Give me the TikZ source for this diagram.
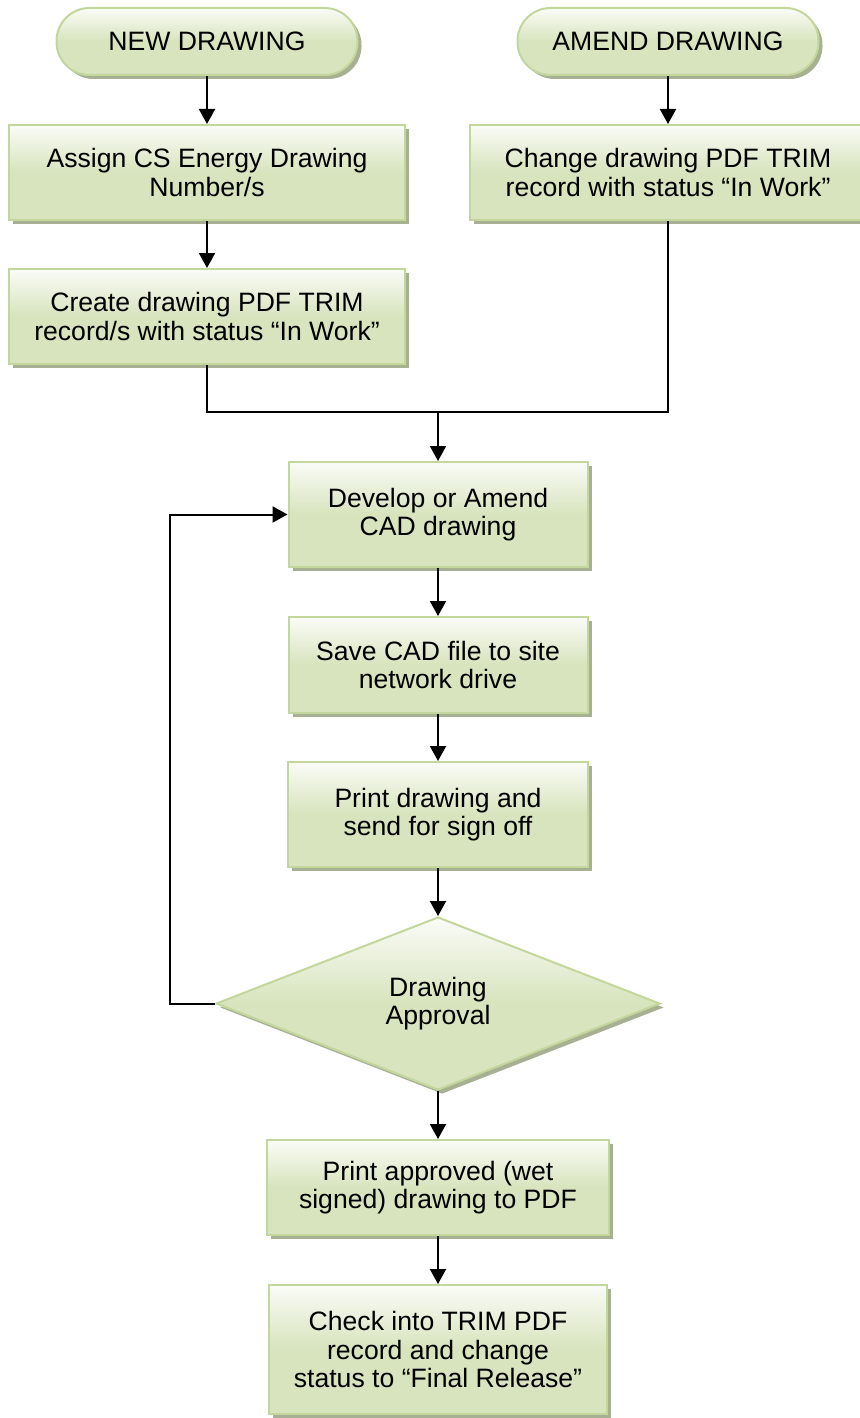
\documentclass[tikz,border=0pt]{standalone}
\usepackage{fontspec}
\setmainfont{Liberation Sans}
\usepackage{tikz}
\usetikzlibrary{shapes.geometric,shadows,arrows.meta}
\definecolor{boxfill}{HTML}{D7E4BD}
\definecolor{boxline}{HTML}{C3D69B}
\definecolor{boxshade}{HTML}{A7B092}

\begin{document}
\begin{tikzpicture}[x=0.5pt,y=-0.5pt,
	greenstyle/.style={draw=boxline, line width=1pt, top color=boxfill!12!white, bottom color=boxfill, middle color=boxfill,
		drop shadow={shadow xshift=2pt, shadow yshift=-2pt, fill=boxshade, opacity=1},
		align=center, inner sep=0pt, font=\fontsize{13.3}{14.3}\selectfont},
	boxstyle/.style={greenstyle, rectangle},
	endstyle/.style={greenstyle, rectangle, rounded corners=16.5pt, minimum width=150.5pt, minimum height=33.5pt},
	decstyle/.style={greenstyle, diamond, aspect=2.57, minimum width=222pt, minimum height=86.5pt},
	arrowstyle/.style={line width=1pt, -{Triangle[length=7.5pt,width=8pt]}}]

	\useasboundingbox (0,0) rectangle (859,1418);

	\node [endstyle] (new) at (207,41.5) {NEW DRAWING};
	\node [endstyle] (amend) at (668,41.5) {AMEND DRAWING};

	\node [boxstyle, minimum width=198pt, minimum height=47.5pt] (assign) at (207,172.5) {Assign CS Energy Drawing\\Number/s};
	\node [boxstyle, minimum width=198pt, minimum height=47.5pt] (change) at (668,172.5) {Change drawing PDF TRIM\\record with status “In Work”};
	\node [boxstyle, minimum width=198pt, minimum height=47.5pt] (create) at (207,316.5) {Create drawing PDF TRIM\\record/s with status “In Work”};

	\coordinate (join) at (438,412);

	\node [boxstyle, minimum width=149.5pt, minimum height=52.5pt] (develop) at (438,514.5) {Develop or Amend\\CAD drawing};
	\node [boxstyle, minimum width=149.5pt, minimum height=48pt] (save) at (438,665) {Save CAD file to site\\network drive};
	\node [boxstyle, minimum width=150pt, minimum height=52.5pt] (print) at (438,814.5) {Print drawing and\\send for sign off};
	\node [decstyle] (approval) at (438,1003.5) {Drawing\\Approval};
	\node [boxstyle, minimum width=171pt, minimum height=47.5pt] (approved) at (438,1187.5) {Print approved (wet\\signed) drawing to PDF};
	\node [boxstyle, minimum width=169pt, minimum height=64.5pt] (check) at (438,1349.5) {Check into TRIM PDF\\record and change\\status to “Final Release”};

	\coordinate (back) at (170,1003.5);

	\draw [arrowstyle] (new.south) -- (assign.north);
	\draw [arrowstyle] (amend.south) -- (change.north);
	\draw [arrowstyle] (assign.south) -- (create.north);
	\draw [line width=1pt] (create.south) |- (join);
	\draw [line width=1pt] (change.south) |- (join);
	\draw [arrowstyle] (join) -- (develop.north);
	\draw [arrowstyle] (develop.south) -- (save.north);
	\draw [arrowstyle] (save.south) -- (print.north);
	\draw [arrowstyle] (print.south) -- (approval.north);
	\draw [arrowstyle] (approval.south) -- (approved.north);
	\draw [arrowstyle] (approved.south) -- (check.north);
	\draw [arrowstyle] (approval.west) -- (back) |- (develop.west);
\end{tikzpicture}
\end{document}
